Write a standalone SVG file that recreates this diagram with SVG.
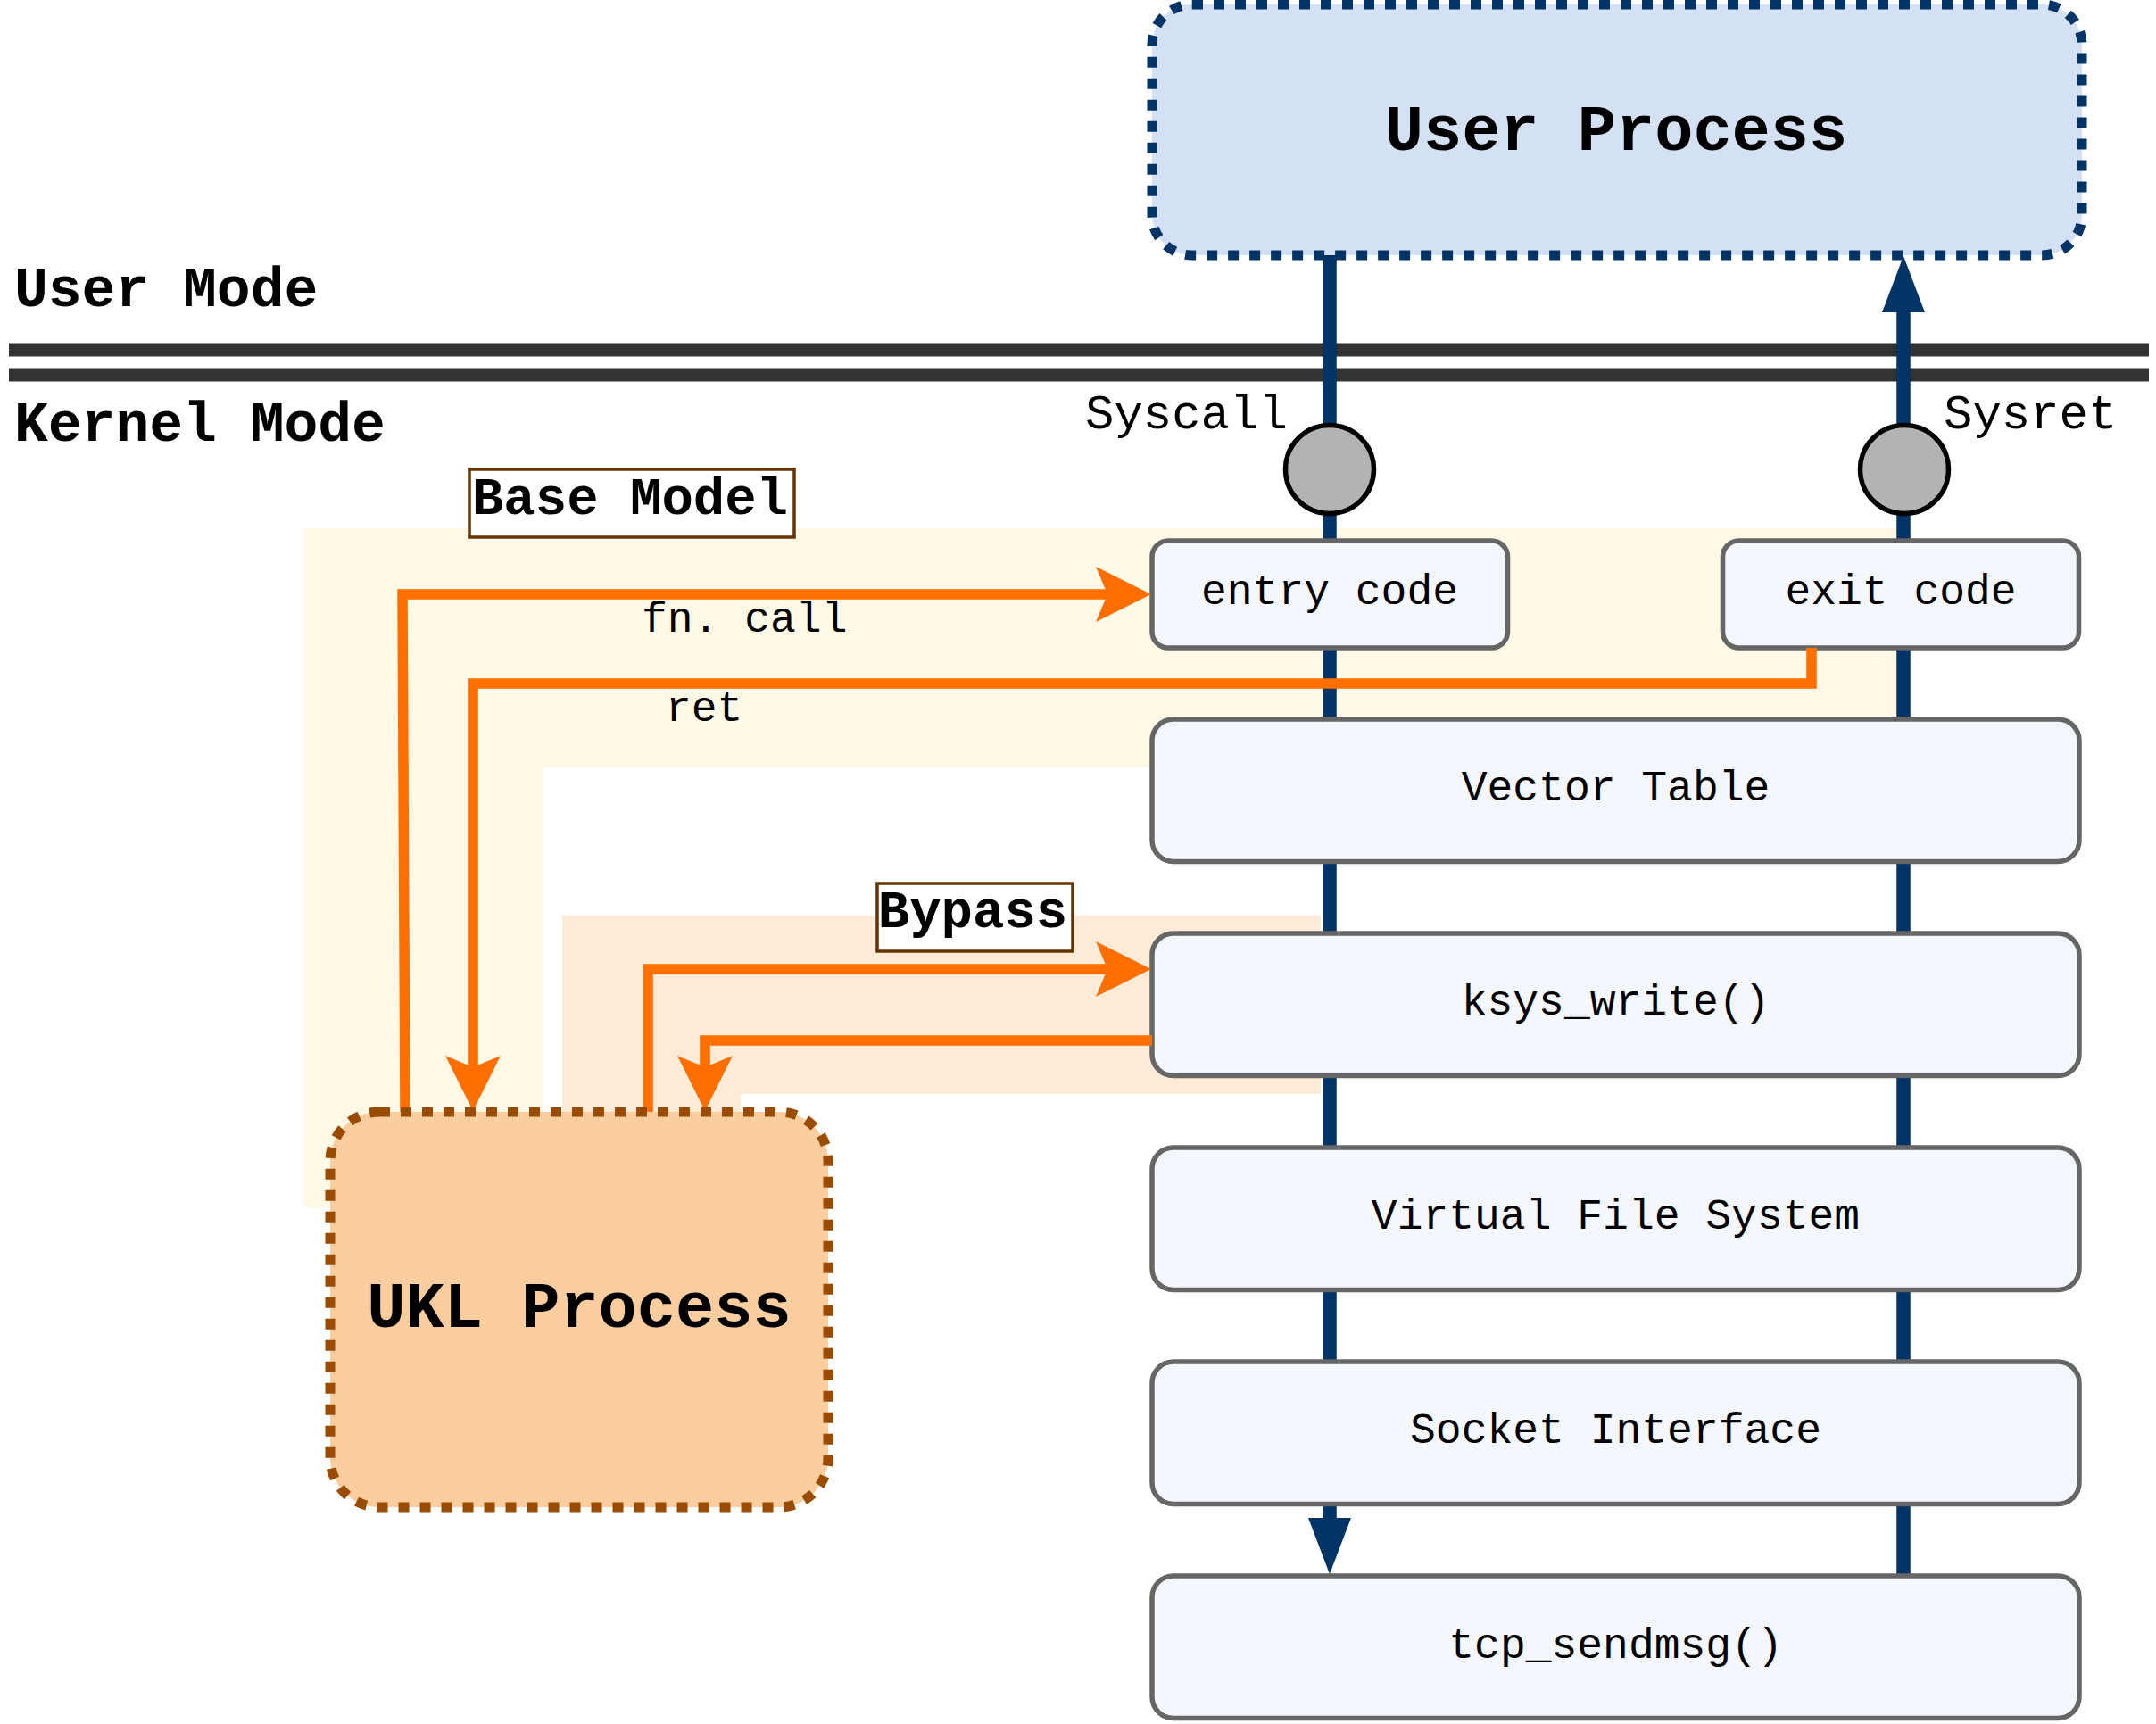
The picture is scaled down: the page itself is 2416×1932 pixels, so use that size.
<svg xmlns="http://www.w3.org/2000/svg" width="2416" height="1932" viewBox="0 0 2416 1932">
<defs>
<style>
.mono{font-family:"Courier New","Liberation Mono",monospace;fill:#000}
.b{font-weight:bold}
.kbox{fill:#F4F7FE;stroke:#666666;stroke-width:5.5}
.lbl{fill:#FFFFFF;stroke:#663300;stroke-width:3.5}
.blue{fill:none;stroke:#003366;stroke-width:15.5}
.orange{fill:none;stroke:#FF6F00;stroke-width:11.5}
.sep{stroke:#333333;stroke-width:15}
.gate{fill:#B3B3B3;stroke:#000000;stroke-width:5.5}
</style>
<marker id="oa" viewBox="0 0 62 62" refX="13" refY="31" markerWidth="62" markerHeight="62" markerUnits="userSpaceOnUse" orient="auto">
<path d="M0,0 L62,31 L0,62 L13,31 Z" fill="#FF6F00"/>
</marker>
<marker id="ba" viewBox="0 0 63 48" refX="0" refY="24" markerWidth="63" markerHeight="48" markerUnits="userSpaceOnUse" orient="auto">
<path d="M0,0 L63,24 L0,48 Z" fill="#003366"/>
</marker>
</defs>
<rect width="2416" height="1932" fill="#FFFFFF"/>

<g id="regions">
<path id="base-region" d="M340,592 H2130 V860 H608 V1353 H340 Z" fill="#FFF9E6"/>
<path id="bypass-region" d="M630,1026 H1480 V1226 H830 V1250 H630 Z" fill="#FDEBD7"/>
</g>

<g id="mode-separator">
<line class="sep" x1="10" y1="392" x2="2408" y2="392"/>
<line class="sep" x1="10" y1="420" x2="2408" y2="420"/>
<text class="mono b" x="16" y="343" font-size="63">User Mode</text>
<text class="mono b" x="16" y="494" font-size="63">Kernel Mode</text>
</g>

<g id="connectors">
<path class="blue" d="M1490,286 L1490,1701" marker-end="url(#ba)"/>
<path class="blue" d="M2133,1766 L2133,350" marker-end="url(#ba)"/>
</g>

<g id="syscall-gate">
<circle class="gate" cx="1490" cy="526" r="49.5"/>
<text class="mono" x="1216" y="480" font-size="54">Syscall</text>
</g>
<g id="sysret-gate">
<circle class="gate" cx="2134" cy="526" r="49.5"/>
<text class="mono" x="2178" y="480" font-size="54">Sysret</text>
</g>

<g id="user-process">
<rect x="1291" y="5" width="1042" height="281" rx="45" fill="#D4E1F5" stroke="#003366" stroke-width="11" stroke-dasharray="12 12"/>
<text class="mono b" x="1811" y="168" font-size="72" text-anchor="middle">User Process</text>
</g>

<g id="entry-code">
<rect class="kbox" x="1291" y="606" width="398.5" height="120" rx="18"/>
<text class="mono" x="1490" y="677" font-size="48" text-anchor="middle">entry code</text>
</g>
<g id="exit-code">
<rect class="kbox" x="1930.5" y="606" width="399" height="120" rx="18"/>
<text class="mono" x="2130" y="677" font-size="48" text-anchor="middle">exit code</text>
</g>
<g id="vector-table">
<rect class="kbox" x="1291" y="806" width="1039" height="159.5" rx="24"/>
<text class="mono" x="1810.5" y="897" font-size="48" text-anchor="middle">Vector Table</text>
</g>
<g id="ksys-write">
<rect class="kbox" x="1291" y="1046" width="1039" height="159.5" rx="24"/>
<text class="mono" x="1810.5" y="1137" font-size="48" text-anchor="middle">ksys_write()</text>
</g>
<g id="vfs">
<rect class="kbox" x="1291" y="1286" width="1039" height="159.5" rx="24"/>
<text class="mono" x="1810.5" y="1377" font-size="48" text-anchor="middle">Virtual File System</text>
</g>
<g id="socket-interface">
<rect class="kbox" x="1291" y="1526" width="1039" height="159.5" rx="24"/>
<text class="mono" x="1810.5" y="1617" font-size="48" text-anchor="middle">Socket Interface</text>
</g>
<g id="tcp-sendmsg">
<rect class="kbox" x="1291" y="1766" width="1039" height="159.5" rx="24"/>
<text class="mono" x="1810.5" y="1858" font-size="48" text-anchor="middle">tcp_sendmsg()</text>
</g>

<g id="ukl-connectors">
<path class="orange" d="M454,1246 L451,666 L1241,666" marker-end="url(#oa)"/>
<path class="orange" d="M2030,726 L2030,766 L530,766 L530,1196" marker-end="url(#oa)"/>
<path class="orange" d="M726,1246 L726,1086 L1241,1086" marker-end="url(#oa)"/>
<path class="orange" d="M1291,1166 L790,1166 L790,1196" marker-end="url(#oa)"/>
<text class="mono" x="719" y="708" font-size="48">fn. call</text>
<text class="mono" x="746" y="808" font-size="48">ret</text>
</g>

<g id="ukl-process">
<rect x="370" y="1246" width="558" height="443" rx="55" fill="#FCCD9E" stroke="#994C00" stroke-width="11" stroke-dasharray="12 12"/>
<text class="mono b" x="649" y="1487" font-size="72" text-anchor="middle">UKL Process</text>
</g>

<g id="base-model-label">
<rect class="lbl" x="526" y="526" width="364" height="76"/>
<text class="mono b" x="706" y="576" font-size="59" text-anchor="middle">Base Model</text>
</g>
<g id="bypass-label">
<rect class="lbl" x="983" y="990" width="219" height="76"/>
<text class="mono b" x="1090" y="1039" font-size="59" text-anchor="middle">Bypass</text>
</g>
</svg>
